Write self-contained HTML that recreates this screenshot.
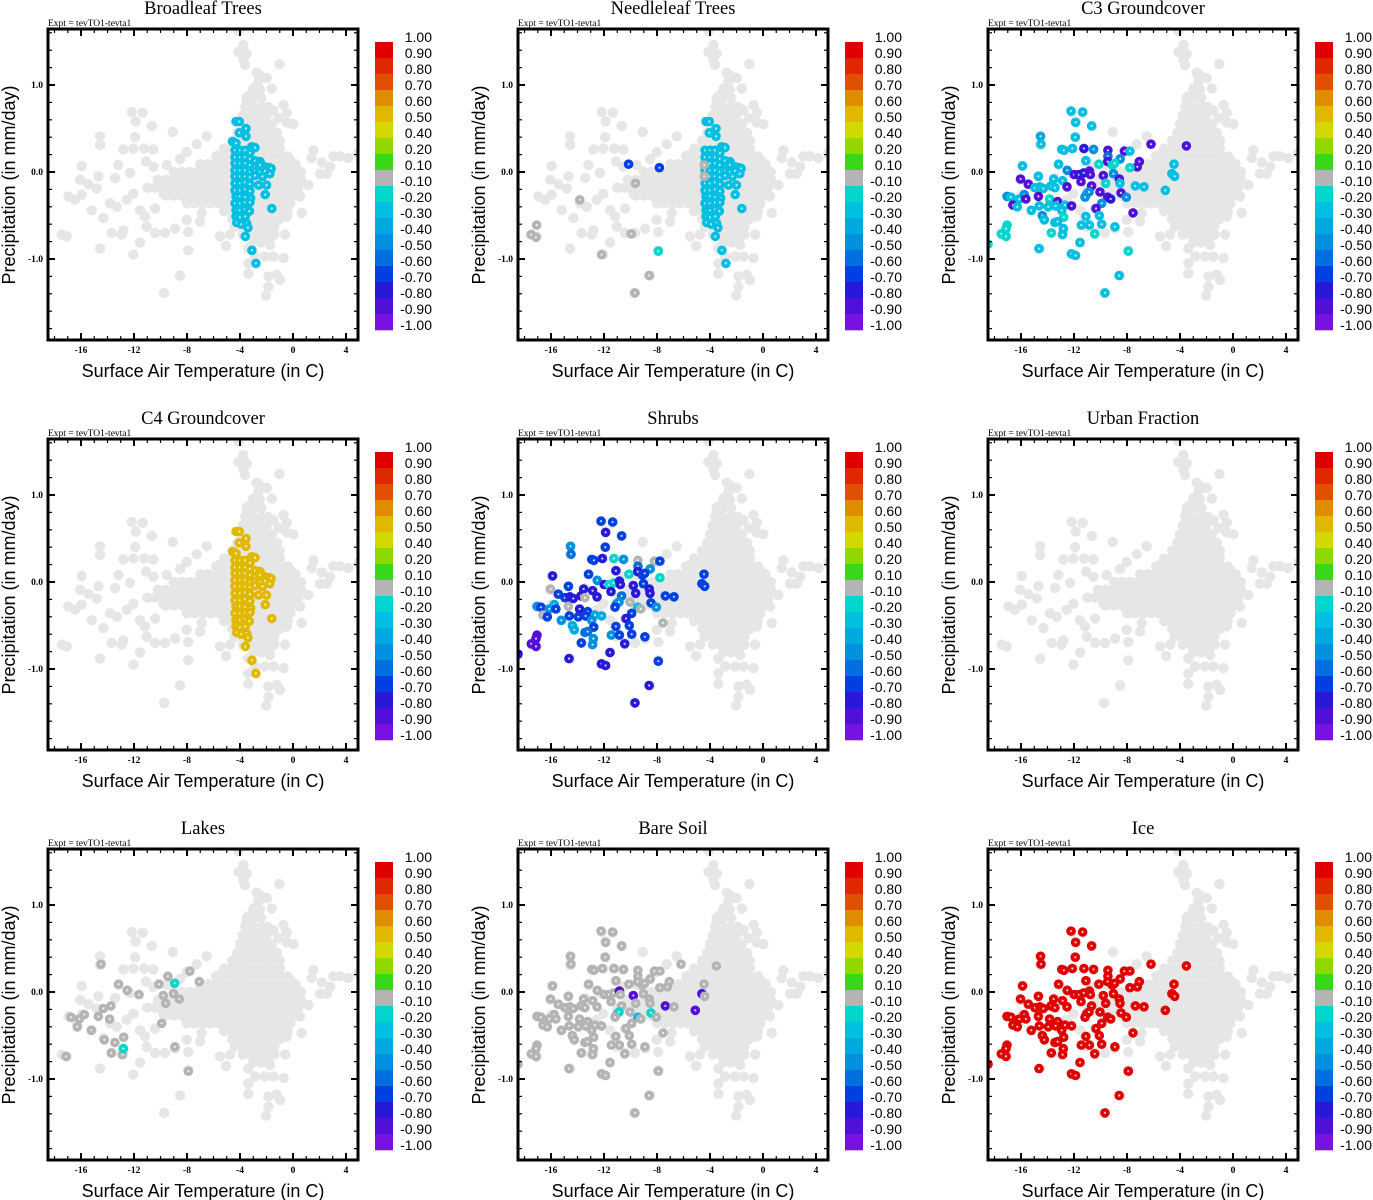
<!DOCTYPE html>
<html><head><meta charset="utf-8"><style>
html,body{margin:0;padding:0;background:#fff;width:1373px;height:1200px;overflow:hidden}
svg text{font-family:"Liberation Sans",sans-serif}
.serif{font-family:"Liberation Serif",serif}
</style></head><body>
<svg id="chart" xmlns="http://www.w3.org/2000/svg" width="1373" height="1200" viewBox="0 0 1373 1200"></svg>
<script>
// ---------- data ----------
const xTicks = [-16,-12,-8,-4,0,4];
const yTicks = [1.0,0.0,-1.0];
const cbLabels = ["1.00","0.90","0.80","0.70","0.60","0.50","0.40","0.20","0.10","-0.10","-0.20","-0.30","-0.40","-0.50","-0.60","-0.70","-0.80","-0.90","-1.00"];
const cbColors = ["#e00000","#e02800","#e05000","#e08c00","#e0b800","#d2d800","#90d800","#38d818","#b4b4b4","#00d6cc","#00bfe0","#00aae0","#0090e0","#0070e0","#0040e0","#2818d8","#5010d8","#7812e0"];
const titles = ["Broadleaf Trees","Needleleaf Trees","C3 Groundcover","C4 Groundcover","Shrubs","Urban Fraction","Lakes","Bare Soil","Ice"];

// background cloud: scattered points
const bgT = [-4.12,-3.74,-4.12,-3.49,-3.74,-3.62,-1.03,-2.74,-2.49,-1.98,-2.61,-2.99,-1.60,-3.37,-3.49,-0.72,-1.48,-0.47,-1.10,-0.47,0.03,-12.17,-11.34,-11.87,-10.66,-9.08,-14.56,-11.92,-6.51,-14.56,-7.27,-12.8,-12.05,-11.24,-10.54,-8.02,-8.52,-5.63,1.54,1.41,3.05,3.55,4.18,4.93,2.17,2.8,-13.18,-11.09,-15.95,-16.07,-15.44,-16.95,-16.45,-15.95,-14.69,-13.43,-12.30,-10.54,-9.53,-14.81,-15.19,-14.31,-13.81,-13.30,-12.05,-12.55,-11.54,-11.17,-10.41,-9.78,-8.90,-8.02,-7.27,-6.89,-17.46,-17.08,-14.56,-13.68,-12.8,-12.93,-11.54,-11.04,-10.41,-9.66,-8.90,-8.02,-7.90,-7.01,-7.90,-12.05,-8.52,-9.73,-5.50,-4.75,-5.05,-3.37,-2.86,-3.37,-2.11,-1.48,-0.72,-1.86,-1.23,-0.98,-1.86,-2.03,-3.37,0.53,0.66,1.16,2.04,2.55,0.53,-0.22,0.03,-0.72,-0.47,-0.60,-1.73];
const bgP = [1.62,1.46,1.38,1.36,1.29,1.23,1.24,1.14,1.11,1.08,1.04,0.96,0.96,0.87,0.81,0.77,0.71,0.68,0.62,0.57,0.55,0.69,0.68,0.58,0.53,0.46,0.41,0.40,0.41,0.31,0.32,0.26,0.27,0.27,0.26,0.23,0.15,0.19,0.25,0.16,0.18,0.18,0.16,0.22,0.11,0.06,0.08,0.12,0.07,-0.09,-0.14,-0.28,-0.32,-0.26,-0.05,-0.07,-0.01,0.06,0.08,-0.19,-0.44,-0.53,-0.36,-0.40,-0.25,-0.32,-0.44,-0.51,-0.42,-0.25,-0.23,-0.32,-0.25,-0.47,-0.72,-0.74,-0.88,-0.70,-0.67,-0.72,-0.81,-0.63,-0.70,-0.70,-0.65,-0.55,-0.69,-0.57,-0.90,-0.95,-1.19,-1.39,-0.74,-0.72,-0.85,-0.88,-0.97,-1.17,-0.97,-0.97,-0.99,-1.20,-1.18,-1.24,-1.32,-1.42,-1.05,-0.28,-0.47,-0.15,-0.02,-0.02,-0.02,0.14,-0.17,-0.36,-0.51,-0.72,-0.84];
// background cloud: dense core rows [precip, temperatures]
const coreRows = [
 [0.95,[-3.0,-2.5]],
 [0.85,[-3.5,-3.0,-2.4]],
 [0.75,[-3.6,-3.0,-2.4,-1.9]],
 [0.65,[-3.8,-3.2,-2.6,-2.0]],
 [0.55,[-4.0,-3.4,-2.8,-2.2,-1.6]],
 [0.45,[-4.2,-3.6,-3.0,-2.4,-1.8,-1.2]],
 [0.36,[-4.6,-4.0,-3.4,-2.8,-2.2,-1.6,-1.0]],
 [0.27,[-5.2,-4.6,-4.0,-3.4,-2.8,-2.2,-1.6,-1.0]],
 [0.18,[-5.8,-5.2,-4.6,-4.0,-3.4,-2.8,-2.2,-1.6,-1.0,-0.4]],
 [0.09,[-7.0,-6.4,-5.8,-5.2,-4.6,-4.0,-3.4,-2.8,-2.2,-1.6,-1.0,-0.4,0.2]],
 [0.00,[-9.0,-8.4,-7.8,-7.2,-6.6,-6.0,-5.4,-4.8,-4.2,-3.6,-3.0,-2.4,-1.8,-1.2,-0.6,0.0,0.6]],
 [-0.09,[-10.2,-9.6,-9.0,-8.4,-7.8,-7.2,-6.6,-6.0,-5.4,-4.8,-4.2,-3.6,-3.0,-2.4,-1.8,-1.2,-0.6,0.0,0.6]],
 [-0.18,[-11.0,-10.4,-9.8,-9.2,-8.6,-8.0,-7.4,-6.8,-6.2,-5.6,-5.0,-4.4,-3.8,-3.2,-2.6,-2.0,-1.4,-0.8,-0.2,0.4]],
 [-0.27,[-9.6,-9.0,-8.4,-7.8,-7.2,-6.6,-6.0,-5.4,-4.8,-4.2,-3.6,-3.0,-2.4,-1.8,-1.2,-0.6,0.0]],
 [-0.36,[-8.0,-7.4,-6.8,-6.2,-5.6,-5.0,-4.4,-3.8,-3.2,-2.6,-2.0,-1.4,-0.8,-0.2]],
 [-0.45,[-5.2,-4.6,-4.0,-3.4,-2.8,-2.2,-1.6,-1.0,-0.4]],
 [-0.54,[-4.6,-4.0,-3.4,-2.8,-2.2,-1.6,-1.0]],
 [-0.63,[-4.4,-3.8,-3.2,-2.6,-2.0,-1.4]],
 [-0.72,[-3.8,-3.2,-2.6,-2.0,-1.4]],
 [-0.81,[-3.0,-2.4,-1.8]]
];

// tree group (broadleaf / needleleaf / C4)
const treeT = [-4.38,-4.0,-3.62,-3.25,-4.38,-4.0,-3.62,-3.25,-2.87,-2.49,-4.38,-4.0,-3.62,-3.25,-2.87,-2.49,-2.11,-1.8,-4.38,-4.0,-3.62,-3.25,-2.87,-2.49,-2.11,-1.65,-4.38,-4.0,-3.62,-3.25,-2.87,-2.3,-1.75,-4.38,-4.0,-3.62,-3.25,-2.6,-2.0,-4.38,-4.0,-3.62,-3.25,-2.1,-4.3,-4.0,-3.62,-3.2,-4.38,-4.0,-3.62,-3.25,-1.6,-4.3,-4.0,-3.62,-3.3,-4.3,-4.0,-3.6,-4.25,-3.9,-3.5,-3.4,-3.6,-3.1,-2.8,-4.30,-4.05,-3.55,-4.05,-3.55,-4.55,-4.30,-3.12,-2.87];
const treeP = [0.25,0.25,0.25,0.22,0.17,0.17,0.17,0.15,0.13,0.12,0.10,0.10,0.10,0.08,0.06,0.08,0.06,0.05,0.02,0.02,0.02,0.0,0.01,0.0,0.01,0.04,-0.05,-0.05,-0.05,-0.06,-0.04,-0.05,-0.02,-0.13,-0.13,-0.12,-0.14,-0.15,-0.15,-0.21,-0.21,-0.20,-0.22,-0.26,-0.28,-0.28,-0.29,-0.30,-0.36,-0.36,-0.35,-0.35,-0.42,-0.44,-0.44,-0.43,-0.45,-0.51,-0.52,-0.51,-0.58,-0.60,-0.59,-0.64,-0.74,-0.90,-1.05,0.58,0.58,0.50,0.45,0.41,0.35,0.33,0.29,0.28];
const broadleafVal = -0.3;
const c4Val = 0.55;
// needleleaf extra points
const needleT = [-10.14,-7.82,-9.63,-13.83,-17.08,-17.51,-17.13,-9.94,-7.90,-12.18,-8.60,-9.66,-4.43,-4.43];
const needleP = [0.09,0.05,-0.13,-0.32,-0.61,-0.72,-0.75,-0.71,-0.91,-0.95,-1.19,-1.39,0.08,-0.05];
const needleV = [-0.7,-0.7,0,0,0,0,0,0,-0.2,0,0,0,0,0];

// cold group (C3 / shrubs / lakes / bare soil / ice)
const coldT = [-12.23,-11.35,-11.88,-10.67,-14.52,-14.49,-11.90,-6.19,-3.52,-12.93,-12.76,-12.13,-11.25,-10.52,-9.44,-8.20,-7.78,-13.16,-11.10,-9.44,-9.46,-8.51,-7.07,-7.22,-7.78,-10.12,-9.11,-8.93,-4.45,-15.88,-12.51,-11.98,-11.62,-11.27,-10.84,-10.77,-9.79,-9.03,-4.61,-4.40,-16.03,-14.69,-13.54,-12.86,-11.47,-9.61,-8.58,-8.53,-7.37,-6.72,-5.11,-15.45,-14.95,-14.57,-14.32,-13.74,-13.44,-12.53,-10.67,-11.05,-10.87,-10.04,-8.45,-8.05,-17.06,-16.76,-16.13,-15.75,-15.63,-14.69,-14.62,-13.84,-13.24,-12.68,-12.18,-11.17,-9.46,-9.23,-9.91,-16.61,-16.28,-15.22,-13.94,-13.39,-12.93,-10.34,-7.55,-14.39,-14.24,-12.78,-13.44,-13.24,-11.10,-10.09,-17.06,-17.13,-17.49,-17.13,-13.71,-12.86,-12.81,-11.45,-10.84,-9.91,-10.44,-8.91,-18.49,-11.55,-14.64,-7.90,-12.20,-11.88,-8.60,-9.66];
const coldP = [0.70,0.69,0.57,0.53,0.41,0.32,0.40,0.32,0.30,0.26,0.25,0.27,0.27,0.26,0.25,0.24,0.24,0.09,0.13,0.18,0.12,0.15,0.12,0.06,0.05,0.09,0.08,0.10,0.09,0.07,0.02,-0.03,-0.03,-0.01,0.01,-0.03,-0.04,-0.02,-0.02,-0.05,-0.08,-0.05,-0.08,-0.10,-0.11,-0.13,-0.08,-0.13,-0.16,-0.17,-0.21,-0.14,-0.18,-0.17,-0.19,-0.16,-0.18,-0.17,-0.16,-0.25,-0.23,-0.23,-0.24,-0.29,-0.28,-0.29,-0.31,-0.26,-0.31,-0.28,-0.39,-0.31,-0.34,-0.38,-0.39,-0.29,-0.29,-0.31,-0.36,-0.38,-0.40,-0.44,-0.40,-0.39,-0.44,-0.42,-0.47,-0.50,-0.55,-0.52,-0.58,-0.57,-0.51,-0.50,-0.61,-0.65,-0.71,-0.74,-0.70,-0.72,-0.65,-0.61,-0.61,-0.60,-0.71,-0.63,-0.83,-0.81,-0.88,-0.91,-0.94,-0.96,-1.19,-1.39];
const c3Vals = [-0.3,-0.3,-0.3,-0.3,-0.4,-0.3,-0.3,-0.9,-0.9,-0.3,-0.3,-0.3,-0.8,-0.5,-0.9,-0.9,-0.3,-0.3,-0.3,-0.6,-0.9,-0.5,-0.9,-0.9,-0.2,-0.2,-0.2,-0.2,-0.3,-0.3,-0.5,-0.9,-0.8,-0.8,-0.9,-0.9,-0.9,-0.5,-0.3,-0.3,-0.9,-0.3,-0.3,-0.3,-0.9,-0.2,-0.9,-0.3,-0.3,-0.3,-0.3,-0.9,-0.3,-0.3,-0.3,-0.3,-0.3,-0.9,-0.9,-0.3,-0.5,-0.9,-0.9,-0.5,-0.5,-0.3,-0.3,-0.5,-0.9,-0.9,-0.3,-0.2,-0.9,-0.3,-0.9,-0.5,-0.9,-0.8,-0.5,-0.9,-0.3,-0.3,-0.3,-0.3,-0.3,-0.9,-0.9,-0.5,-0.3,-0.2,-0.3,-0.3,-0.3,-0.3,-0.2,-0.2,-0.2,-0.2,-0.2,-0.3,-0.3,-0.3,-0.3,-0.3,-0.2,-0.3,-0.2,-0.3,-0.3,-0.2,-0.3,-0.3,-0.3,-0.3];
const shrubVals = [-0.7,-0.7,-0.8,-0.7,-0.5,-0.6,-0.7,null,null,-0.7,-0.7,-0.8,-0.2,-0.5,0,0,-0.7,-0.7,-0.8,-0.6,-0.8,-0.5,null,null,-0.2,-0.2,-0.7,-0.7,-0.7,-0.8,-0.5,-0.8,-0.2,-0.2,-0.8,-0.8,-0.8,-0.7,-0.7,-0.7,0,-0.7,-0.8,-0.8,-0.8,-0.8,-0.8,-0.8,-0.7,-0.7,null,-0.7,-0.7,-0.8,-0.8,-0.8,0,-0.8,-0.6,-0.5,-0.5,0,-0.7,-0.5,-0.5,-0.7,-0.5,-0.4,-0.7,0,-0.7,-0.8,-0.7,-0.4,-0.4,-0.7,-0.3,0,-0.7,0,-0.7,-0.5,-0.7,-0.7,-0.5,-0.8,0,-0.4,-0.4,-0.7,-0.6,-0.6,-0.7,-0.7,-0.9,-0.9,-0.9,-0.9,-0.7,-0.5,-0.5,-0.5,-0.7,-0.7,-0.8,-0.7,-0.8,-0.8,-0.8,-0.7,-0.8,-0.8,-0.8,-0.8];
const lakeVals = [null,null,null,null,null,0,null,null,null,null,null,null,null,null,null,null,0,0,null,0,null,null,0,null,null,0,null,-0.2,null,null,0,null,0,null,null,null,0,0,null,null,null,null,null,null,null,0,0,null,null,null,null,null,null,null,0,0,null,null,null,null,null,null,null,null,null,0,0,0,null,0,null,0,null,null,null,null,null,null,0,null,0,0,null,null,null,null,null,null,0,0,0,null,null,null,null,null,null,0,0,0,-0.2,null,null,null,null,0,null,null,null,0,null,null,null,null];
const bareVals = [0,0,0,0,0,0,0,0,0,0,0,0,0,0,0,0,0,0,0,0,0,0,0,0,0,0,0,0,0,0,0,0,0,0,-0.9,0,-0.9,0,-0.9,0,0,0,0,0,0,0,0,0,-0.9,0,-0.9,0,0,0,0,0,0,0,0,0,-0.2,0,-0.2,0,0,0,0,0,0,0,0,0,0,0,0,0,-0.3,0,0,0,0,0,0,0,0,0,0,0,0,0,0,0,0,0,0,0,0,0,0,0,0,0,0,0,0,0,0,0,0,0,0,0,0,0];
const iceVal = 0.95;

// ---------- drawing ----------
const NS = "http://www.w3.org/2000/svg";
const svg = document.getElementById("chart");
function mk(tag, attrs, parent){ const e=document.createElementNS(NS,tag); for(const k in attrs) e.setAttribute(k,attrs[k]); (parent||svg).appendChild(e); return e; }
const L=48,R=358,T0=29,B=340;
function xs(v){ return 293 + v*13.25; }
function ys(v){ return 172 - v*87; }
function colorOf(v){
  const edges=[0.9,0.8,0.7,0.6,0.5,0.4,0.2,0.1,-0.1,-0.2,-0.3,-0.4,-0.5,-0.6,-0.7,-0.8,-0.9];
  for(let i=0;i<edges.length;i++){ if(v>=edges[i]) return cbColors[i]; }
  return cbColors[17];
}
const bgAllT=[], bgAllP=[];
coreRows.forEach(r=>r[1].forEach(t=>{bgAllT.push(t);bgAllP.push(r[0]);}));
bgT.forEach((t,i)=>{bgAllT.push(t);bgAllP.push(bgP[i]);});

function dot(g, t, p, col, name){
  const isBg = col==="#e6e6e6";
  const c = mk("circle",{cx:xs(t).toFixed(1),cy:ys(p).toFixed(1),r:isBg?5.2:4.8,fill:col},g);
  
  
  if(!isBg) mk("circle",{cx:xs(t).toFixed(1),cy:ys(p).toFixed(1),r:1.1,fill:"#fff","fill-opacity":0.8},g);
}

function panel(idx){
  const ox=(idx%3)*470, oy=Math.floor(idx/3)*410;
  const g=mk("g",{transform:`translate(${ox},${oy})`});
  
  
  const tt=mk("text",{x:203,y:14,"text-anchor":"middle","font-size":18.5,class:"serif"},g); tt.textContent=titles[idx];
  
  
  const ex=mk("text",{x:48,y:26,"font-size":9.5,class:"serif"},g); ex.textContent="Expt = tevTO1-tevta1";
  
  
  const clipId="clip"+idx;
  const cp=mk("clipPath",{id:clipId},g); mk("rect",{x:L,y:T0,width:R-L,height:B-T0},cp);
  const pg=mk("g",{"clip-path":`url(#${clipId})`},g);
  
  
  bgAllT.forEach((t,i)=>dot(pg,t,bgAllP[i],"#e6e6e6","background-point"));
  if(idx===0||idx===1||idx===3){
    const v = idx===3? c4Val : broadleafVal;
    treeT.forEach((t,i)=>{
      if(idx===1 && (i===72||i===73)) return;
      dot(pg,t,treeP[i],colorOf(v),"tree-point");
    });
    if(idx===1) needleT.forEach((t,i)=>dot(pg,t,needleP[i],colorOf(needleV[i]),"needleleaf-point"));
  }
  const cv = {2:c3Vals,4:shrubVals,6:lakeVals,7:bareVals}[idx];
  if(cv) coldT.forEach((t,i)=>{ if(cv[i]!==null && cv[i]!==undefined) dot(pg,t,coldP[i],colorOf(cv[i]),"cold-point"); });
  if(idx===8) coldT.forEach((t,i)=>dot(pg,t,coldP[i],colorOf(iceVal),"ice-point"));
  // frame
  const fr=mk("rect",{x:L,y:T0,width:R-L,height:B-T0,fill:"none",stroke:"#000","stroke-width":3},g);
  
  
  for(let v=-18;v<=4;v++){ const x=xs(v); const len = (v%4===0)?7:4;
    mk("line",{x1:x,y1:B,x2:x,y2:B-len,stroke:"#000","stroke-width":len>4?2:1.2},g);
    mk("line",{x1:x,y1:T0,x2:x,y2:T0+len,stroke:"#000","stroke-width":len>4?2:1.2},g); }
  for(let k=-9;k<=8;k++){ const v=k*0.2; const y=ys(v); if(y<T0||y>B) continue; const major=(k%5===0); const len=major?7:4;
    mk("line",{x1:L,y1:y,x2:L+len,y2:y,stroke:"#000","stroke-width":major?2:1.2},g);
    mk("line",{x1:R,y1:y,x2:R-len,y2:y,stroke:"#000","stroke-width":major?2:1.2},g); }
  xTicks.forEach(v=>{ const t=mk("text",{x:xs(v),y:353,"text-anchor":"middle","font-size":9.5,"font-weight":"bold",class:"serif"},g); t.textContent=String(v);
    
     });
  yTicks.forEach(v=>{ const t=mk("text",{x:43,y:ys(v)+3,"text-anchor":"end","font-size":9.5,"font-weight":"bold",class:"serif"},g); t.textContent=v.toFixed(1);
    
     });
  const xl=mk("text",{x:203,y:377,"text-anchor":"middle","font-size":18},g); xl.textContent="Surface Air Temperature (in C)";
  
  
  const yl=mk("text",{x:0,y:0,"text-anchor":"middle","font-size":18,transform:"translate(15,185) rotate(-90)"},g); yl.textContent="Precipitation (in mm/day)";
  
  
  const cb=mk("g",{},g);
  
  
  cbColors.forEach((c,i)=>mk("rect",{x:375,y:42+16*i,width:18,height:16.3,fill:c},cb));
  cbLabels.forEach((s,i)=>{ const t=mk("text",{x:432,y:42+16*i,"text-anchor":"end","font-size":14},cb); t.textContent=s;
    
     });
}
for(let i=0;i<9;i++) panel(i);
</script>
</body></html>
